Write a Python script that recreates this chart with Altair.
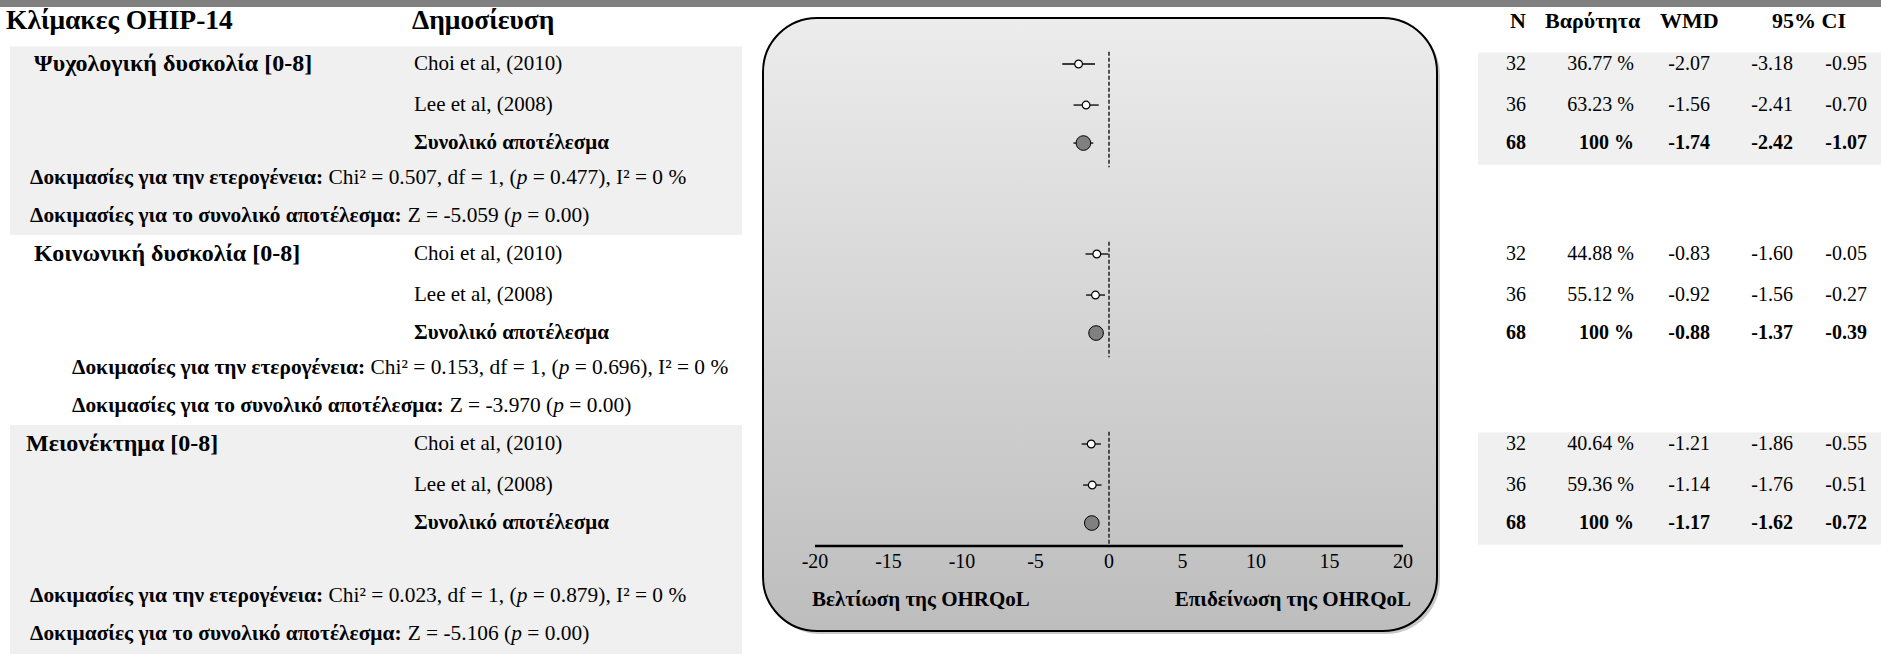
import altair as alt
import pandas as pd
import struct
import glob

W, H = 1881, 654

# ---------------- data ----------------
scale_names = ["Ψυχολογική δυσκολία [0-8]", "Κοινωνική δυσκολία [0-8]", "Μειονέκτημα [0-8]"]
studies = ["Choi et al, (2010)", "Lee et al, (2008)"]
overall_label = "Συνολικό αποτέλεσμα"
n_vals = [[32, 36, 68], [32, 36, 68], [32, 36, 68]]
weights = [["36.77 %", "63.23 %", "100 %"],
           ["44.88 %", "55.12 %", "100 %"],
           ["40.64 %", "59.36 %", "100 %"]]
wmd = [[-2.07, -1.56, -1.74], [-0.83, -0.92, -0.88], [-1.21, -1.14, -1.17]]
ci_low = [[-3.18, -2.41, -2.42], [-1.60, -1.56, -1.37], [-1.86, -1.76, -1.62]]
ci_high = [[-0.95, -0.70, -1.07], [-0.05, -0.27, -0.39], [-0.55, -0.51, -0.72]]
chi2 = ["0.507", "0.153", "0.023"]
chi2_p = ["0.477", "0.696", "0.879"]
z_vals = ["-5.059", "-3.970", "-5.106"]
z_p = ["0.00", "0.00", "0.00"]
ticks = [-20, -15, -10, -5, 0, 5, 10, 15, 20]
headers_left = ["Κλίμακες OHIP-14", "Δημοσίευση"]
headers_right = ["N", "Βαρύτητα", "WMD", "95% CI"]
axis_titles = ["Βελτίωση της OHRQoL", "Επιδείνωση της OHRQoL"]

# ---------------- layout ----------------
FONT = "Liberation Serif"
group_rows = [1, 6, 11]
row_shift = [0.0, 0.08, 0.08]
test_rows = [(4, 5), (9, 10), (15, 16)]
label_x = [34, 34, 26]
test_x = [30, 72, 30]
study_x = 414
col_right = [1526, 1634, 1710, 1793, 1867]
Y0, DY = 26.0, 38.0
y_dom = [-Y0 / DY, (H - Y0) / DY]
ZERO_PX, PX_PER = 1109.0, 14.7
x_dom = [-ZERO_PX / PX_PER, (W - ZERO_PX) / PX_PER]
PANEL = dict(x1=763, x2=1437, y1=18, y2=631, r=54)


# ---------------- font metrics (for mixed-style lines) ----------------
def _find(fname):
    for root in ["/usr/share/fonts", "/usr/local/share/fonts"]:
        hits = glob.glob(root + "/**/" + fname, recursive=True)
        if hits:
            return hits[0]
    return None


def _load(path):
    try:
        data = open(path, "rb").read()
        nt = struct.unpack(">H", data[4:6])[0]
        tab = {}
        for i in range(nt):
            tag, _, off, ln = struct.unpack(">4sIII", data[12 + 16 * i:28 + 16 * i])
            tab[tag.decode("latin1")] = off
        upem = struct.unpack(">H", data[tab["head"] + 18:tab["head"] + 20])[0]
        nhm = struct.unpack(">H", data[tab["hhea"] + 34:tab["hhea"] + 36])[0]
        hm = tab["hmtx"]
        adv = [struct.unpack(">H", data[hm + 4 * i:hm + 4 * i + 2])[0] for i in range(nhm)]
        cm = tab["cmap"]
        n = struct.unpack(">H", data[cm + 2:cm + 4])[0]
        for i in range(n):
            pid, eid, off = struct.unpack(">HHI", data[cm + 4 + 8 * i:cm + 12 + 8 * i])
            sub = cm + off
            fmt = struct.unpack(">H", data[sub:sub + 2])[0]
            if fmt == 4 and pid == 3 and eid == 1:
                s2 = struct.unpack(">H", data[sub + 6:sub + 8])[0]
                segs = s2 // 2
                ends = struct.unpack(">%dH" % segs, data[sub + 14:sub + 14 + s2])
                starts = struct.unpack(">%dH" % segs, data[sub + 16 + s2:sub + 16 + 2 * s2])
                deltas = struct.unpack(">%dh" % segs, data[sub + 16 + 2 * s2:sub + 16 + 3 * s2])
                rpos = sub + 16 + 3 * s2
                roffs = struct.unpack(">%dH" % segs, data[rpos:rpos + s2])

                def gid(c):
                    for k in range(segs):
                        if starts[k] <= c <= ends[k]:
                            if roffs[k] == 0:
                                return (c + deltas[k]) & 0xFFFF
                            a = rpos + 2 * k + roffs[k] + 2 * (c - starts[k])
                            g = struct.unpack(">H", data[a:a + 2])[0]
                            return (g + deltas[k]) & 0xFFFF if g else 0
                    return 0

                def width(text, size):
                    tot = 0
                    for ch in text:
                        g = gid(ord(ch))
                        tot += adv[min(g, nhm - 1)]
                    return tot / upem * size
                return width
    except Exception:
        return None
    return None


_metrics = {}
for key, fname in [(("normal", "normal"), "LiberationSerif-Regular.ttf"),
                   (("bold", "normal"), "LiberationSerif-Bold.ttf"),
                   (("normal", "italic"), "LiberationSerif-Italic.ttf")]:
    p = _find(fname)
    _metrics[key] = _load(p) if p else None


def measure(text, size, weight="normal", style="normal"):
    f = _metrics.get((weight, style))
    if f:
        return f(text, size)
    return len(text) * size * (0.5 if weight == "bold" else 0.45)


# ---------------- text items ----------------
texts = []


def add(px, row, text, size, weight="normal", style="normal", align="left"):
    texts.append(dict(px=px, row=row, text=text, size=size, weight=weight,
                      style=style, align=align))


def add_mixed(px, row, segs, size):
    x = px
    for text, weight, style in segs:
        lead = len(text) - len(text.lstrip(" "))
        trail = len(text) - len(text.rstrip(" "))
        core = text.strip(" ")
        x += measure(" " * lead, size, weight, style)
        add(x, row, core, size, weight, style)
        x += measure(core, size, weight, style) + measure(" " * trail, size, weight, style)


HROW = (21 - Y0) / DY
add(6, HROW, headers_left[0], 27.5, "bold")
add(412, HROW, headers_left[1], 27.5, "bold")
add(1526, HROW, headers_right[0], 22, "bold", align="right")
add(1545, HROW, headers_right[1], 22, "bold")
add(1660, HROW, headers_right[2], 22, "bold")
add(1772, HROW, headers_right[3], 22, "bold")

for g in range(3):
    r0 = group_rows[g]
    add(label_x[g], r0, scale_names[g], 24, "bold")
    add(study_x, r0 + 0 + row_shift[0], studies[0], 21)
    add(study_x, r0 + 1 + row_shift[1], studies[1], 21)
    add(study_x, r0 + 2 + row_shift[2], overall_label, 21, "bold")
    for k in range(3):
        w = "bold" if k == 2 else "normal"
        vals = [str(n_vals[g][k]), weights[g][k], "%.2f" % wmd[g][k],
                "%.2f" % ci_low[g][k], "%.2f" % ci_high[g][k]]
        for cx, v in zip(col_right, vals):
            add(cx, r0 + k + row_shift[k], v, 20, w, align="right")
    ra, rb = test_rows[g]
    add_mixed(test_x[g], ra, [("Δοκιμασίες για την ετερογένεια:", "bold", "normal"),
                              (" Chi² = %s, df = 1, (" % chi2[g], "normal", "normal"),
                              ("p", "normal", "italic"),
                              (" = %s), I² = 0 %%" % chi2_p[g], "normal", "normal")], 21.4)
    add_mixed(test_x[g], rb, [("Δοκιμασίες για το συνολικό αποτέλεσμα:", "bold", "normal"),
                              (" Z = %s (" % z_vals[g], "normal", "normal"),
                              ("p", "normal", "italic"),
                              (" = %s)" % z_p[g], "normal", "normal")], 21.4)

text_df = pd.DataFrame(texts)

# ---------------- forest data ----------------
pts = []
for g in range(3):
    for k in range(3):
        pts.append(dict(row=group_rows[g] + k + row_shift[k], wmd=wmd[g][k], lo=ci_low[g][k],
                        hi=ci_high[g][k], kind="overall" if k == 2 else "study"))
pts_df = pd.DataFrame(pts)
zero_df = pd.DataFrame([dict(v=0, r1=group_rows[g] - 0.32, r2=group_rows[g] + 2.72) for g in range(3)])
tick_df = pd.DataFrame(dict(v=ticks, row=[(562 - Y0) / DY] * len(ticks), lab=[str(t) for t in ticks]))
axis_df = pd.DataFrame([dict(v1=ticks[0], v2=ticks[-1], row=(546 - Y0) / DY)])
atitle_df = pd.DataFrame([dict(v=ticks[0], row=(600 - Y0) / DY, t=axis_titles[0]),
                          dict(v=ticks[-1], row=(600 - Y0) / DY, t=axis_titles[1])])
band_df = pd.DataFrame([
    dict(x1=10, x2=742, r1=group_rows[0] - 0.47, r2=group_rows[0] + 4.5),
    dict(x1=10, x2=742, r1=group_rows[2] - 0.5, r2=y_dom[1]),
    dict(x1=1478, x2=W, r1=group_rows[0] - 0.3, r2=group_rows[0] + 2.65),
    dict(x1=1478, x2=W, r1=group_rows[2] - 0.3, r2=group_rows[2] + 2.65),
])
dummy = pd.DataFrame({"a": [0]})

ysc = alt.Scale(domain=y_dom, reverse=True, zero=False, nice=False)
pxs = alt.Scale(domain=[0, W], zero=False, nice=False)
vxs = alt.Scale(domain=x_dom, zero=False, nice=False)


def Yq(f):
    return alt.Y(f, type="quantitative", scale=ysc, axis=None)


def Y2q(f):
    return alt.Y2(f)


layers = []
# top grey strip
layers.append(alt.Chart(dummy).mark_rect(color="#808080").encode(
    x=alt.value(0), x2=alt.value(W), y=alt.value(0), y2=alt.value(7)))
# light bands
layers.append(alt.Chart(band_df).mark_rect(color="#f0f0f0").encode(
    x=alt.X("x1:Q", scale=pxs, axis=None), x2="x2:Q", y=Yq("r1"), y2=Y2q("r2")))
# panel shadow + panel
layers.append(alt.Chart(dummy).mark_rect(color="#9a9a9a", opacity=0.55, cornerRadius=PANEL["r"]).encode(
    x=alt.value(PANEL["x1"] + 3), x2=alt.value(PANEL["x2"] + 3),
    y=alt.value(PANEL["y1"] + 3), y2=alt.value(PANEL["y2"] + 3)))
grad = alt.Gradient(gradient="linear",
                    stops=[alt.GradientStop(color="#ececec", offset=0),
                           alt.GradientStop(color="#bdbdbd", offset=1)],
                    x1=0, x2=0, y1=0, y2=1)
layers.append(alt.Chart(dummy).mark_rect(fill=grad, stroke="black", strokeWidth=2,
                                         cornerRadius=PANEL["r"]).encode(
    x=alt.value(PANEL["x1"]), x2=alt.value(PANEL["x2"]),
    y=alt.value(PANEL["y1"]), y2=alt.value(PANEL["y2"])))
# zero dashed lines
layers.append(alt.Chart(zero_df).mark_rule(color="#222222", strokeDash=[4, 2], strokeWidth=1.5).encode(
    x=alt.X("v:Q", scale=vxs, axis=None), y=Yq("r1"), y2=Y2q("r2")))
# axis line
layers.append(alt.Chart(axis_df).mark_rule(color="black", strokeWidth=2.5).encode(
    x=alt.X("v1:Q", scale=vxs, axis=None), x2="v2:Q", y=Yq("row")))
# tick labels
layers.append(alt.Chart(tick_df).mark_text(font=FONT, fontSize=20, baseline="middle", align="center").encode(
    x=alt.X("v:Q", scale=vxs, axis=None), y=Yq("row"), text="lab:N"))
# axis titles
layers.append(alt.Chart(atitle_df.iloc[[0]]).mark_text(font=FONT, fontSize=21, fontWeight="bold",
                                                        baseline="middle", align="left", dx=-3).encode(
    x=alt.X("v:Q", scale=vxs, axis=None), y=Yq("row"), text="t:N"))
layers.append(alt.Chart(atitle_df.iloc[[1]]).mark_text(font=FONT, fontSize=21, fontWeight="bold",
                                                        baseline="middle", align="right", dx=8).encode(
    x=alt.X("v:Q", scale=vxs, axis=None), y=Yq("row"), text="t:N"))
# CI whiskers
layers.append(alt.Chart(pts_df).mark_rule(color="black", strokeWidth=1.3).encode(
    x=alt.X("lo:Q", scale=vxs, axis=None), x2="hi:Q", y=Yq("row")))
# study points
layers.append(alt.Chart(pts_df[pts_df.kind == "study"]).mark_point(
    shape="circle", filled=True, fill="white", stroke="black", strokeWidth=1.2, size=60, opacity=1).encode(
    x=alt.X("wmd:Q", scale=vxs, axis=None), y=Yq("row")))
# overall points
layers.append(alt.Chart(pts_df[pts_df.kind == "overall"]).mark_point(
    shape="circle", filled=True, fill="#808080", stroke="black", strokeWidth=1, size=215, opacity=1).encode(
    x=alt.X("wmd:Q", scale=vxs, axis=None), y=Yq("row")))

# text layers
for (size, weight, style, align), sub in text_df.groupby(["size", "weight", "style", "align"]):
    layers.append(alt.Chart(sub.reset_index(drop=True)).mark_text(
        font=FONT, fontSize=float(size), fontWeight=weight, fontStyle=style, align=align,
        baseline="middle", color="black").encode(
        x=alt.X("px:Q", scale=pxs, axis=None), y=Yq("row"), text="text:N"))

chart = alt.layer(*layers).resolve_scale(x="independent").properties(
    width=W, height=H, padding=0, autosize=alt.AutoSizeParams(type="none"), background="white"
).configure_view(stroke=None)

chart.save("out.html", embed_options={"renderer": "svg", "actions": False})
